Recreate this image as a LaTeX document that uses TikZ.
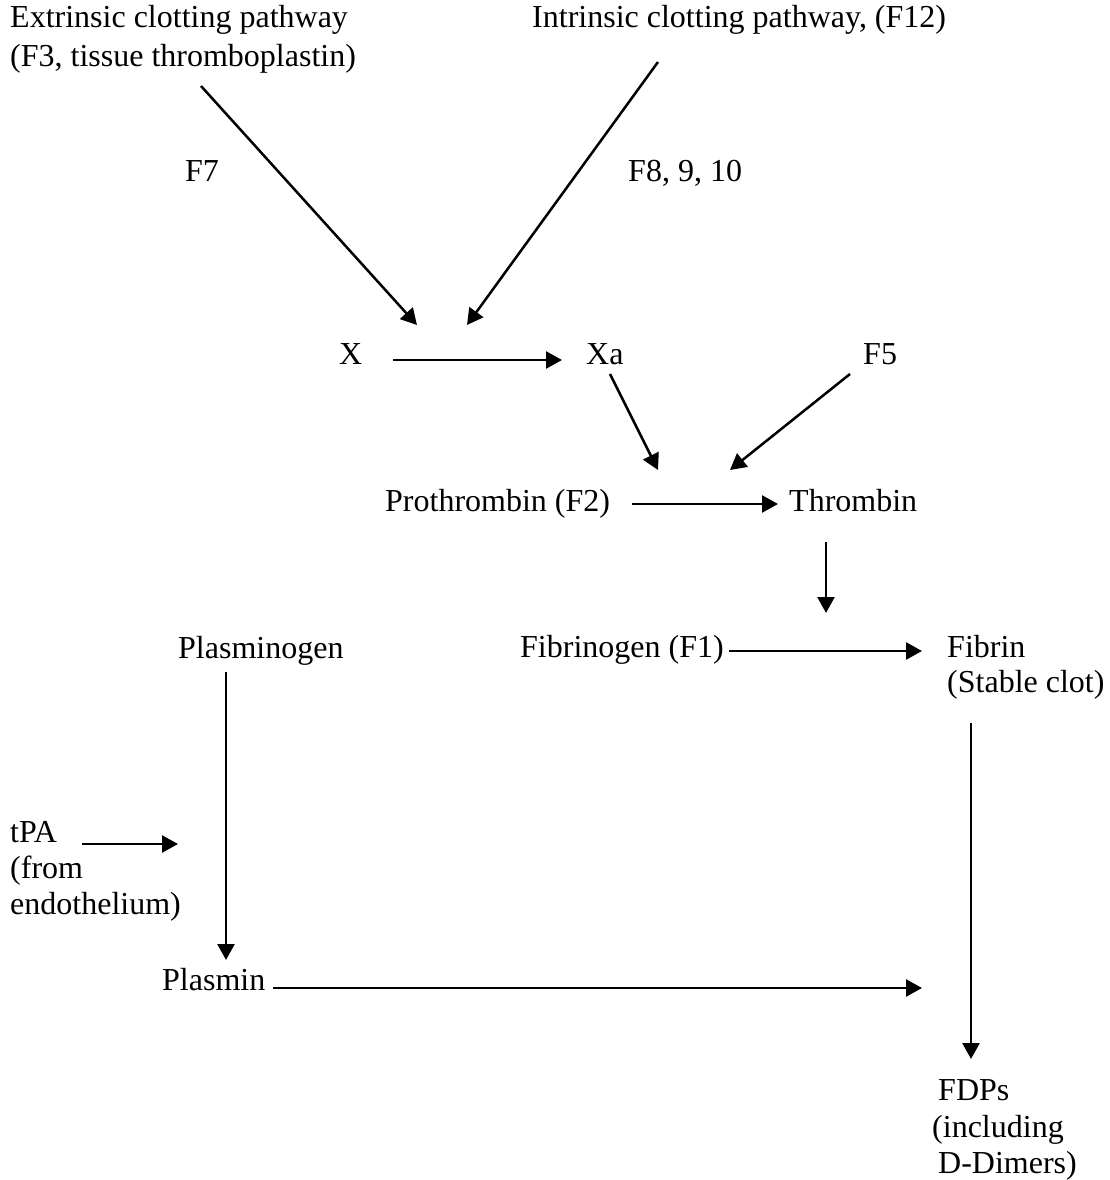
\documentclass[tikz,border=0pt]{standalone}
\usepackage{fontspec}
\setmainfont{Liberation Serif}
\usetikzlibrary{arrows.meta}
\begin{document}
\begin{tikzpicture}[x=1pt,y=-1pt,
  lbl/.style={anchor=base west,inner sep=0pt,font=\fontsize{32}{37}\selectfont},
  arr/.style={line width=2.5pt,-{Triangle[length=16pt,width=17pt]}}]
\useasboundingbox[fill=white] (0,0) rectangle (1109,1180);
% texts
\node[lbl] (ext1) at (10,28) {Extrinsic clotting pathway};
\node[lbl] (ext2) at (10,67) {(F3, tissue thromboplastin)};
\node[lbl] (intr) at (532,28) {Intrinsic clotting pathway, (F12)};
\node[lbl] (f7) at (185,181) {F7};
\node[lbl] (f8) at (628,181) {F8, 9, 10};
\node[lbl] (x) at (339,364) {X};
\node[lbl] (xa) at (586,364) {Xa};
\node[lbl] (f5) at (863,364) {F5};
\node[lbl] (pro) at (385,511) {Prothrombin (F2)};
\node[lbl] (thr) at (789,511) {Thrombin};
\node[lbl] (plg) at (178,658) {Plasminogen};
\node[lbl] (fbg) at (520,657) {Fibrinogen (F1)};
\node[lbl] (fib1) at (947,657) {Fibrin};
\node[lbl] (fib2) at (947,692) {(Stable clot)};
\node[lbl] (tpa1) at (10,842) {tPA};
\node[lbl] (tpa2) at (10,878) {(from};
\node[lbl] (tpa3) at (10,914) {endothelium)};
\node[lbl] (pls) at (162,990) {Plasmin};
\node[lbl] (fdp1) at (938,1100) {FDPs};
\node[lbl] (fdp2) at (932,1137) {(including};
\node[lbl] (fdp3) at (938,1173) {D-Dimers)};
% connector end points
\coordinate (a1s) at (201,86);  \coordinate (a1e) at (417,325);
\coordinate (a2s) at (658,62);  \coordinate (a2e) at (467,325);
\coordinate (xs) at (393,360);  \coordinate (xe) at (562,360);
\coordinate (xas) at (610,374); \coordinate (xae) at (658,470);
\coordinate (f5s) at (850,374); \coordinate (f5e) at (730,470);
\coordinate (ps) at (632,504);  \coordinate (pe) at (778,504);
\coordinate (ts) at (826,542);  \coordinate (te) at (826,613);
\coordinate (fs) at (729,651);  \coordinate (fe) at (922,651);
\coordinate (pgs) at (226,672); \coordinate (pge) at (226,960);
\coordinate (tps) at (82,844);  \coordinate (tpe) at (178,844);
\coordinate (pls1) at (273,988); \coordinate (ple) at (922,988);
\coordinate (fbs) at (971,723); \coordinate (fbe) at (971,1059);
% connectors
\draw[arr] (a1s) -- (a1e);
\draw[arr] (a2s) -- (a2e);
\draw[arr] (xs) -- (xe);
\draw[arr] (xas) -- (xae);
\draw[arr] (f5s) -- (f5e);
\draw[arr] (ps) -- (pe);
\draw[arr] (ts) -- (te);
\draw[arr] (fs) -- (fe);
\draw[arr] (pgs) -- (pge);
\draw[arr] (tps) -- (tpe);
\draw[arr] (pls1) -- (ple);
\draw[arr] (fbs) -- (fbe);
\end{tikzpicture}
\end{document}
